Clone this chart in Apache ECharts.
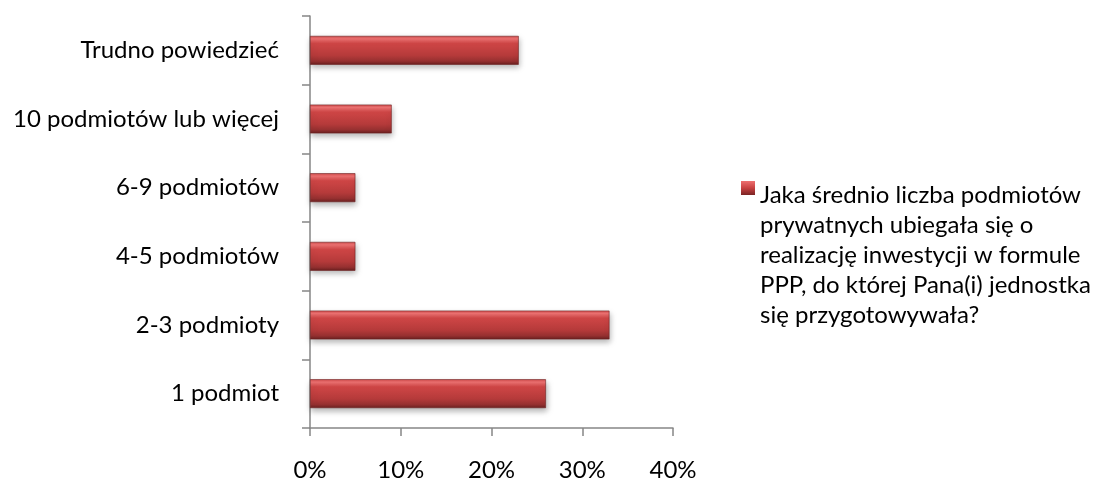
<!DOCTYPE html>
<html>
<head>
<meta charset="utf-8">
<script src="https://cdn.jsdelivr.net/npm/echarts@6/dist/echarts.min.js"></script>
<style>
  html, body { margin: 0; padding: 0; background: #fff; }
  #chart { width: 1107px; height: 482px; }
</style>
</head>
<body>
<div id="chart"></div>
<script>
// Categories listed bottom-to-top (category y axis grows upward)
const categories = [
  '1 podmiot',
  '2-3 podmioty',
  '4-5 podmiotów',
  '6-9 podmiotów',
  '10 podmiotów lub więcej',
  'Trudno powiedzieć'
];
// Share of answers, in percent
const shares = [26, 33, 5, 5, 9, 23];
const xTicks = [0, 10, 20, 30, 40];
const seriesName = 'Jaka średnio liczba podmiotów prywatnych ubiegała się o realizację inwestycji w formule PPP, do której Pana(i) jednostka się przygotowywała?';
const legendLines = [
  'Jaka średnio liczba podmiotów',
  'prywatnych ubiegała się o',
  'realizację inwestycji w formule',
  'PPP, do której Pana(i) jednostka',
  'się przygotowywała?'
];

const FONT = 'Lato, "Open Sans", sans-serif';

const barFill = new echarts.graphic.LinearGradient(0, 0, 0, 1, [
  { offset: 0, color: '#d04a4a' },
  { offset: 0.1, color: '#ee7272' },
  { offset: 0.26, color: '#cf4646' },
  { offset: 0.68, color: '#b53a3a' },
  { offset: 0.88, color: '#953030' },
  { offset: 1, color: '#682020' }
]);

// Legend marker: a 14px square at the top of a tall icon box, so the
// marker sits beside the first line of the wrapped legend text.
const ICON_H = 148;
const legendIcon = 'path://M0,0h14v14h-14z M0,' + ICON_H + 'h0.01v0.01h-0.01z';
const k = 14 / ICON_H;
const iconFill = new echarts.graphic.LinearGradient(0, 0, 0, 1, [
  { offset: 0, color: '#ee7070' },
  { offset: 0.5 * k, color: '#c84242' },
  { offset: k, color: '#7a2424' },
  { offset: 1, color: 'rgba(255,255,255,0)' }
]);

const chart = echarts.init(document.getElementById('chart'), null, { renderer: 'canvas' });
chart.setOption({
  animation: false,
  grid: { left: 310, right: 434, top: 16, bottom: 52, containLabel: false },
  xAxis: {
    type: 'value',
    min: xTicks[0],
    max: xTicks[xTicks.length - 1],
    interval: 10,
    splitLine: { show: false },
    axisLine: { show: true, lineStyle: { color: '#868686', width: 1.5 } },
    axisTick: { show: true, length: 8, lineStyle: { color: '#868686', width: 1.5 } },
    axisLabel: { formatter: '{value}%', margin: 30, color: '#000', fontSize: 24, fontFamily: FONT }
  },
  yAxis: {
    type: 'category',
    data: categories,
    axisLine: { show: true, lineStyle: { color: '#868686', width: 1.5 } },
    axisTick: { show: true, length: 8, lineStyle: { color: '#868686', width: 1.5 } },
    axisLabel: { margin: 31, color: '#000', fontSize: 24, fontFamily: FONT }
  },
  legend: {
    left: 736,
    top: 175,
    orient: 'vertical',
    itemWidth: 14,
    itemHeight: ICON_H,
    itemGap: 0,
    formatter: () => legendLines.join('\n'),
    textStyle: { color: '#000', fontSize: 24, fontFamily: FONT, lineHeight: 30 },
    data: [{
      name: seriesName,
      icon: legendIcon,
      itemStyle: { color: iconFill, borderWidth: 0, shadowBlur: 0, shadowColor: 'transparent' }
    }]
  },
  series: [{
    name: seriesName,
    type: 'bar',
    data: shares,
    barCategoryGap: '58%',
    itemStyle: {
      color: barFill,
      borderColor: '#6e2222',
      borderWidth: 0.6,
      shadowColor: 'rgba(0,0,0,0.3)',
      shadowBlur: 6,
      shadowOffsetY: 3,
      shadowOffsetX: 1
    }
  }]
});
</script>
</body>
</html>
